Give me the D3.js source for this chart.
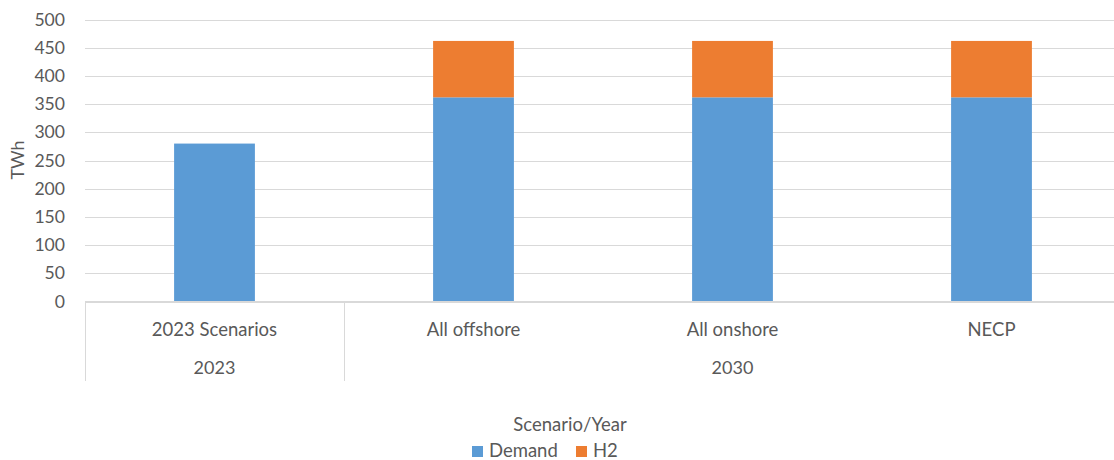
<!DOCTYPE html>
<html>
<head>
<meta charset="utf-8">
<script src="https://cdn.jsdelivr.net/npm/d3@7"></script>
<style>
  html, body { margin: 0; padding: 0; background: #fff; }
  svg { display: block; }
  text { font-family: Lato, "Liberation Sans", sans-serif; fill: #595959; }
</style>
</head>
<body>
<svg id="chart" width="1114" height="460"></svg>
<script>
// Scenario categories and their year groups
const categories = ["2023 Scenarios", "All offshore", "All onshore", "NECP"];
const years = ["2023", "2030", "2030", "2030"];
// Stacked series (TWh)
const demand = [280, 362, 362, 362];
const h2 = [0, 100, 100, 100];
const seriesNames = ["Demand", "H2"];
const seriesColors = ["#5b9bd5", "#ed7d31"];
const yTicks = [0, 50, 100, 150, 200, 250, 300, 350, 400, 450, 500];

const svg = d3.select("#chart");
const plotLeft = 85, plotRight = 1121, plotTop = 19.5, plotBottom = 301.5;
const fontSize = "18px";

const x = d3.scaleBand().domain(categories).range([plotLeft, plotRight]).paddingInner(0.688).paddingOuter(0.344);
const y = d3.scaleLinear().domain([0, 500]).range([plotBottom, plotTop]);

// Gridlines
svg.append("g")
  .selectAll("line")
  .data(yTicks)
  .join("line")
  .attr("x1", plotLeft).attr("x2", plotRight)
  .attr("y1", d => Math.round(y(d)) + 0.5).attr("y2", d => Math.round(y(d)) + 0.5)
  .attr("stroke", "#d9d9d9").attr("stroke-width", 1);

// Y axis tick labels
const yAxis = d3.axisLeft(y).tickValues(yTicks).tickSize(0).tickPadding(20);
const yg = svg.append("g").attr("transform", `translate(${plotLeft},0)`).call(yAxis);
yg.select(".domain").remove();
yg.selectAll("text").style("font-size", "17.6px").attr("fill", "#595959")
  .style("font-family", "Lato, 'Liberation Sans', sans-serif");

// Stacked bars
const rows = categories.map((c, i) => ({ cat: c, Demand: demand[i], H2: h2[i] }));
const stack = d3.stack().keys(seriesNames)(rows);
const color = d3.scaleOrdinal().domain(seriesNames).range(seriesColors);

svg.append("g")
  .selectAll("g")
  .data(stack)
  .join("g")
  .attr("fill", d => color(d.key))
  .selectAll("rect")
  .data(d => d.filter(p => p[1] - p[0] > 0))
  .join("rect")
  .attr("x", d => x(d.data.cat))
  .attr("width", x.bandwidth())
  .attr("y", d => y(d[1]))
  .attr("height", d => y(d[0]) - y(d[1]));

// Category axis: baseline and group separators
const axisColor = "#d9d9d9";
svg.append("line")
  .attr("x1", plotLeft).attr("x2", plotRight)
  .attr("y1", plotBottom).attr("y2", plotBottom)
  .attr("stroke", axisColor);

const step = x.step();
const groupBounds = [];
years.forEach((yr, i) => { if (i === 0 || years[i - 1] !== yr) groupBounds.push(i); });
groupBounds.push(categories.length);
groupBounds.forEach(i => {
  const xx = Math.round(plotLeft + i * step) + 0.5;
  svg.append("line")
    .attr("x1", xx).attr("x2", xx)
    .attr("y1", plotBottom).attr("y2", 381)
    .attr("stroke", axisColor);
});

// Category labels
svg.append("g")
  .selectAll("text")
  .data(categories)
  .join("text")
  .attr("x", d => x(d) + x.bandwidth() / 2)
  .attr("y", 336)
  .attr("text-anchor", "middle")
  .style("font-size", "18.5px")
  .text(d => d);

// Year group labels
const groups = [];
for (let g = 0; g < groupBounds.length - 1; g++) {
  groups.push({ label: years[groupBounds[g]], from: groupBounds[g], to: groupBounds[g + 1] });
}
svg.append("g")
  .selectAll("text")
  .data(groups)
  .join("text")
  .attr("x", d => plotLeft + (d.from + d.to) / 2 * step)
  .attr("y", 374)
  .attr("text-anchor", "middle")
  .style("font-size", "18px")
  .text(d => d.label);

// Y axis title
svg.append("text")
  .attr("transform", "translate(24,160) rotate(-90)")
  .attr("text-anchor", "middle")
  .style("font-size", fontSize)
  .text("TWh");

// Legend
svg.append("text")
  .attr("x", 570).attr("y", 431)
  .attr("text-anchor", "middle")
  .style("font-size", "18.5px")
  .text("Scenario/Year");

const legendItems = [{ name: seriesNames[0], x: 472 }, { name: seriesNames[1], x: 576 }];
const lg = svg.append("g").selectAll("g").data(legendItems).join("g")
  .attr("transform", d => `translate(${d.x},446)`);
lg.append("rect").attr("width", 11).attr("height", 11).attr("fill", d => color(d.name));
lg.append("text").attr("x", 17).attr("y", 11).style("font-size", "18.5px").text(d => d.name);
</script>
</body>
</html>
